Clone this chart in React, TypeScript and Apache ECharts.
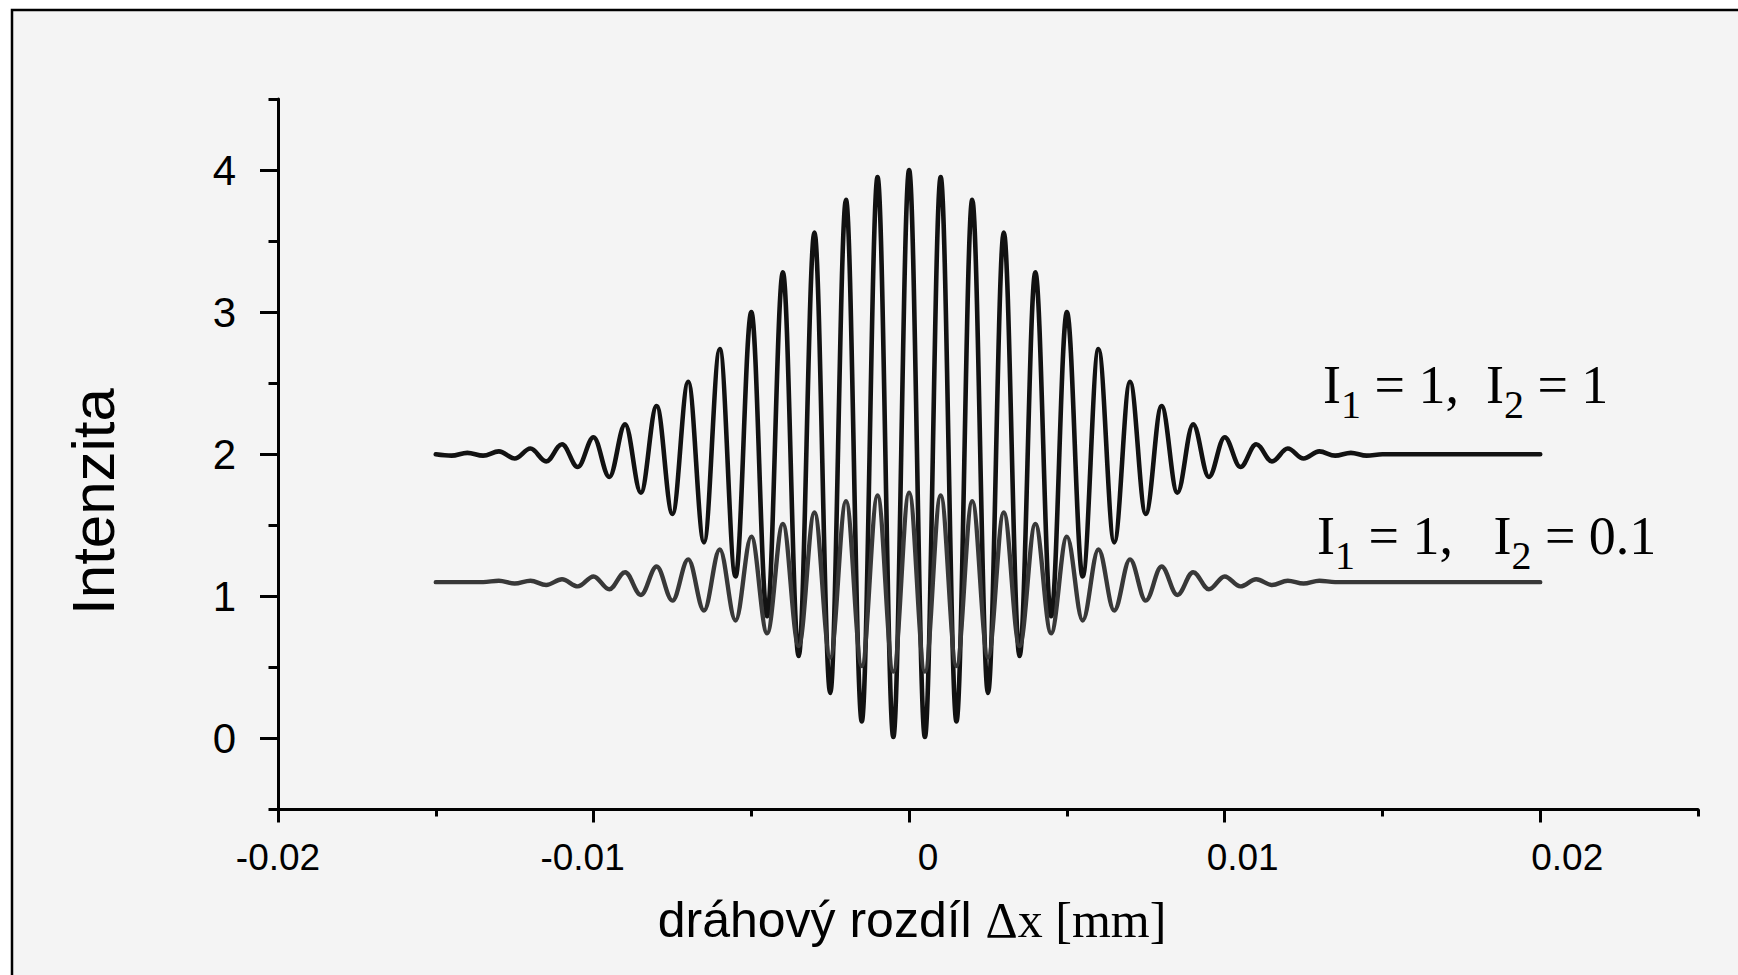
import React, { useEffect, useRef } from "react";
import * as echarts from "echarts";

// ---- data ----
// fringe maxima are spaced 0.001 mm apart; the first one drawn is at -0.015 mm
const FRINGE_PERIOD = 0.001;
const FIRST_ORDER = -15;

// I1 = 1, I2 = 1 : maxima at x = k*0.001 (k = -15..20), minima at (k+0.5)*0.001
const peaksEqual = [
  2.0, 2.01, 2.02, 2.04, 2.07, 2.12, 2.21, 2.34, 2.51, 2.74, 3.0, 3.28, 3.56, 3.79, 3.95,
  4.0,
  3.95, 3.79, 3.56, 3.28, 3.0, 2.74, 2.51, 2.34, 2.21, 2.12, 2.07, 2.04, 2.02, 2.01,
  2.0, 2.0, 2.0, 2.0, 2.0, 2.0,
];
const troughsEqual = [
  1.99, 1.99, 1.97, 1.95, 1.91, 1.84, 1.73, 1.58, 1.38, 1.14, 0.86, 0.58, 0.32, 0.12, 0.01,
  0.01, 0.12, 0.32, 0.58, 0.86, 1.14, 1.38, 1.58, 1.73, 1.84, 1.91, 1.95, 1.97, 1.99, 1.99,
  2.0, 2.0, 2.0, 2.0, 2.0,
];

// I1 = 1, I2 = 0.1
const peaksWeak = [
  1.1, 1.1, 1.11, 1.11, 1.12, 1.14, 1.17, 1.21, 1.26, 1.33, 1.42, 1.51, 1.59, 1.67, 1.71,
  1.73,
  1.71, 1.67, 1.59, 1.51, 1.42, 1.33, 1.26, 1.21, 1.17, 1.14, 1.12, 1.11, 1.11, 1.1,
  1.1, 1.1, 1.1, 1.1, 1.1, 1.1,
];
const troughsWeak = [
  1.1, 1.1, 1.09, 1.08, 1.07, 1.05, 1.01, 0.97, 0.9, 0.83, 0.74, 0.65, 0.57, 0.51, 0.47,
  0.47, 0.51, 0.57, 0.65, 0.74, 0.83, 0.9, 0.97, 1.01, 1.05, 1.07, 1.08, 1.09, 1.1, 1.1,
  1.1, 1.1, 1.1, 1.1, 1.1,
];

const X_MAJOR = [-0.02, -0.01, 0, 0.01, 0.02];
const X_LABELS = ["-0.02", "-0.01", "0", "0.01", "0.02"];
const X_MINOR = [-0.015, -0.005, 0.005, 0.015, 0.025];
const Y_MAJOR = [0, 1, 2, 3, 4];
const Y_LABELS = ["0", "1", "2", "3", "4"];
const Y_MINOR = [-0.5, 0.5, 1.5, 2.5, 3.5, 4.5];

const SERIES_NAMES = ["I1 = 1, I2 = 1", "I1 = 1, I2 = 0.1"];

// ---- styling ----
const SANS = '"Liberation Sans", Arial, sans-serif';
const SERIF = '"Liberation Serif", "Times New Roman", serif';
const X_LABEL_PAD: number[][] = [
  [0, 0, 0, 0],
  [0, 22, 0, 0],
  [0, 0, 0, 38],
  [0, 0, 0, 36],
  [0, 0, 0, 54],
];

function buildCurve(peaks: number[], troughs: number[]) {
  const pts: number[][] = [];
  peaks.forEach((p, i) => {
    pts.push([(FIRST_ORDER + i) * FRINGE_PERIOD, p]);
    if (i < troughs.length) {
      pts.push([(FIRST_ORDER + i + 0.5) * FRINGE_PERIOD, troughs[i]]);
    }
  });
  return pts;
}

export default function App() {
  const ref = useRef<HTMLDivElement>(null);

  useEffect(() => {
    if (!ref.current) return;
    const chart = echarts.init(ref.current, null, { renderer: "svg" });

    const xRich: Record<string, any> = {};
    X_LABEL_PAD.forEach((pad, i) => {
      xRich["t" + i] = {
        fontFamily: SANS,
        fontSize: 37,
        color: "#000",
        padding: pad,
      };
    });

    const axisLineStyle = { color: "#000", width: 3 };
    const xCommon = {
      type: "value",
      min: -0.02,
      max: 0.025,
      position: "bottom",
      splitLine: { show: false },
    };
    const yCommon = {
      type: "value",
      min: -0.5,
      max: 4.5,
      position: "left",
      splitLine: { show: false },
    };

    const annotationRich = {
      m: {
        fontFamily: SERIF,
        fontSize: 54,
        fill: "#000",
        color: "#000",
        padding: [0, 0, 12, 0],
        verticalAlign: "bottom",
      },
      s: {
        fontFamily: SERIF,
        fontSize: 40,
        fill: "#000",
        color: "#000",
        verticalAlign: "bottom",
      },
    };

    const option: any = {
      animation: false,
      backgroundColor: "transparent",
      grid: {
        left: 278,
        right: 40,
        top: 99,
        bottom: 165.5,
        containLabel: false,
        outerBoundsMode: "none",
      },
      xAxis: [
        {
          ...xCommon,
          axisLine: { show: true, onZero: false, lineStyle: axisLineStyle },
          axisTick: {
            show: true,
            customValues: X_MAJOR,
            length: 13,
            lineStyle: axisLineStyle,
          },
          axisLabel: {
            show: true,
            customValues: X_MAJOR,
            margin: 29,
            fontFamily: SANS,
            fontSize: 37,
            color: "#000",
            formatter: (v: number) => {
              const i = X_MAJOR.findIndex((t) => Math.abs(t - v) < 1e-9);
              return i < 0 ? "" : `{t${i}|${X_LABELS[i]}}`;
            },
            rich: xRich,
          },
        },
        {
          ...xCommon,
          axisLine: { show: false, onZero: false },
          axisTick: {
            show: true,
            customValues: X_MINOR,
            length: 7,
            lineStyle: axisLineStyle,
          },
          axisLabel: { show: false },
        },
      ],
      yAxis: [
        {
          ...yCommon,
          axisLine: { show: true, onZero: false, lineStyle: axisLineStyle },
          axisTick: {
            show: true,
            customValues: Y_MAJOR,
            length: 18,
            lineStyle: axisLineStyle,
          },
          axisLabel: {
            show: true,
            customValues: Y_MAJOR,
            margin: 42,
            fontFamily: SANS,
            fontSize: 42,
            color: "#000",
            padding: [0, 0, 8, 0],
            formatter: (v: number) => {
              const i = Y_MAJOR.findIndex((t) => Math.abs(t - v) < 1e-9);
              return i < 0 ? "" : Y_LABELS[i];
            },
          },
        },
        {
          ...yCommon,
          axisLine: { show: false, onZero: false },
          axisTick: {
            show: true,
            customValues: Y_MINOR,
            length: 9.5,
            lineStyle: axisLineStyle,
          },
          axisLabel: { show: false },
        },
      ],
      series: [
        {
          name: SERIES_NAMES[0],
          type: "line",
          xAxisIndex: 0,
          yAxisIndex: 0,
          data: buildCurve(peaksEqual, troughsEqual),
          smooth: 0.36,
          smoothMonotone: "x",
          showSymbol: false,
          silent: true,
          z: 3,
          lineStyle: { color: "#121212", width: 4.6, join: "round", cap: "round" },
        },
        {
          name: SERIES_NAMES[1],
          type: "line",
          xAxisIndex: 0,
          yAxisIndex: 0,
          data: buildCurve(peaksWeak, troughsWeak),
          smooth: 0.36,
          smoothMonotone: "x",
          showSymbol: false,
          silent: true,
          z: 4,
          lineStyle: { color: "#383838", width: 4.4, join: "round", cap: "round" },
        },
      ],
      graphic: {
        elements: [
          {
            type: "rect",
            z: -100,
            silent: true,
            shape: { x: 12, y: 10, width: 1800, height: 1100 },
            style: { fill: "#f4f4f4", stroke: "#000", lineWidth: 2.5 },
          },
          {
            type: "text",
            x: 93,
            y: 501.5,
            rotation: Math.PI / 2,
            silent: true,
            style: {
              text: "Intenzita",
              fontFamily: SANS,
              fontSize: 60,
              fill: "#000",
              align: "center",
              verticalAlign: "middle",
            },
          },
          {
            type: "text",
            x: 912,
            y: 920,
            silent: true,
            style: {
              text: "{a|dráhový rozdíl }{b|Δx [mm]}",
              align: "center",
              verticalAlign: "middle",
              fill: "#000",
              rich: {
                a: { fontFamily: SANS, fontSize: 50, fill: "#000", color: "#000" },
                b: { fontFamily: SERIF, fontSize: 50, fill: "#000", color: "#000" },
              },
            },
          },
          {
            type: "text",
            x: 1323,
            y: 424,
            silent: true,
            style: {
              text: "{m|I}{s|1}{m| = 1,  I}{s|2}{m| = 1}",
              align: "left",
              verticalAlign: "bottom",
              fill: "#000",
              rich: annotationRich,
            },
          },
          {
            type: "text",
            x: 1317,
            y: 575,
            silent: true,
            style: {
              text: "{m|I}{s|1}{m| = 1,   I}{s|2}{m| = 0.1}",
              align: "left",
              verticalAlign: "bottom",
              fill: "#000",
              rich: annotationRich,
            },
          },
        ],
      },
    };

    chart.setOption(option);
    return () => chart.dispose();
  }, []);

  return (
    <div
      ref={ref}
      style={{
        position: "fixed",
        left: 0,
        top: 0,
        width: "1738px",
        height: "975px",
        background: "#fff",
      }}
    />
  );
}
